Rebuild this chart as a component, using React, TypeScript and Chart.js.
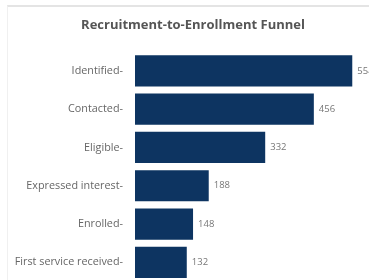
import React, { useEffect, useRef } from "react";
import { Chart, registerables } from "chart.js";

Chart.register(...registerables);

const categories = [
  "Identified",
  "Contacted",
  "Eligible",
  "Expressed interest",
  "Enrolled",
  "First service received",
];
const counts = [554, 456, 332, 188, 148, 132];
const chartTitle = "Recruitment-to-Enrollment Funnel";

const valueLabels = {
  id: "valueLabels",
  afterDatasetsDraw(chart: any) {
    const { ctx } = chart;
    const meta = chart.getDatasetMeta(0);
    ctx.save();
    ctx.font = "9.5px 'Open Sans', sans-serif";
    ctx.fillStyle = "#777";
    ctx.textAlign = "left";
    ctx.textBaseline = "middle";
    meta.data.forEach((bar: any, i: number) => {
      ctx.fillText(String(counts[i]), bar.x + 5, bar.y);
    });
    ctx.restore();
  },
};

export default function App() {
  const ref = useRef<HTMLCanvasElement | null>(null);
  useEffect(() => {
    if (!ref.current) return;
    const chart = new Chart(ref.current, {
      type: "bar",
      data: {
        labels: categories,
        datasets: [
          {
            data: counts,
            backgroundColor: "#0d3461",
            barPercentage: 0.815,
            categoryPercentage: 1,
          },
        ],
      },
      options: {
        indexAxis: "y",
        animation: false,
        responsive: false,
        maintainAspectRatio: false,
        layout: { padding: { left: 0, right: 0, top: 0, bottom: 16 } },
        plugins: {
          legend: { display: false },
          tooltip: { enabled: false },
          title: {
            display: true,
            text: chartTitle,
            color: "#555",
            font: { family: "'Open Sans', sans-serif", size: 13, weight: "bold", lineHeight: 1.3 },
            padding: { top: 17.2, bottom: 17.6 },
          },
        },
        scales: {
          x: {
            display: false,
            min: 0,
            max: 640,
          },
          y: {
            afterFit: (s: any) => {
              s.width = 135;
            },
            border: { display: false },
            grid: { display: false, drawTicks: false },
            ticks: {
              color: "#666",
              padding: 12,
              font: { family: "'Open Sans', sans-serif", size: 10.8 },
              callback: (_v: any, i: number) => categories[i] + "-",
            },
          },
        },
      },
      plugins: [valueLabels],
    });
    return () => chart.destroy();
  }, []);
  return (
    <div style={{ position: "fixed", left: 0, top: 0, width: 369, height: 280, overflow: "hidden", background: "#fff" }}>
      <div
        style={{
          position: "absolute",
          left: 7,
          top: 5,
          width: 420,
          height: 320,
          borderTop: "2px solid #e4e4e4",
          borderLeft: "1px solid #f0f0f0",
        }}
      />
      <canvas ref={ref} width={386} height={300} style={{ position: "absolute", left: 0, top: 0, width: 386, height: 300 }} />
    </div>
  );
}
